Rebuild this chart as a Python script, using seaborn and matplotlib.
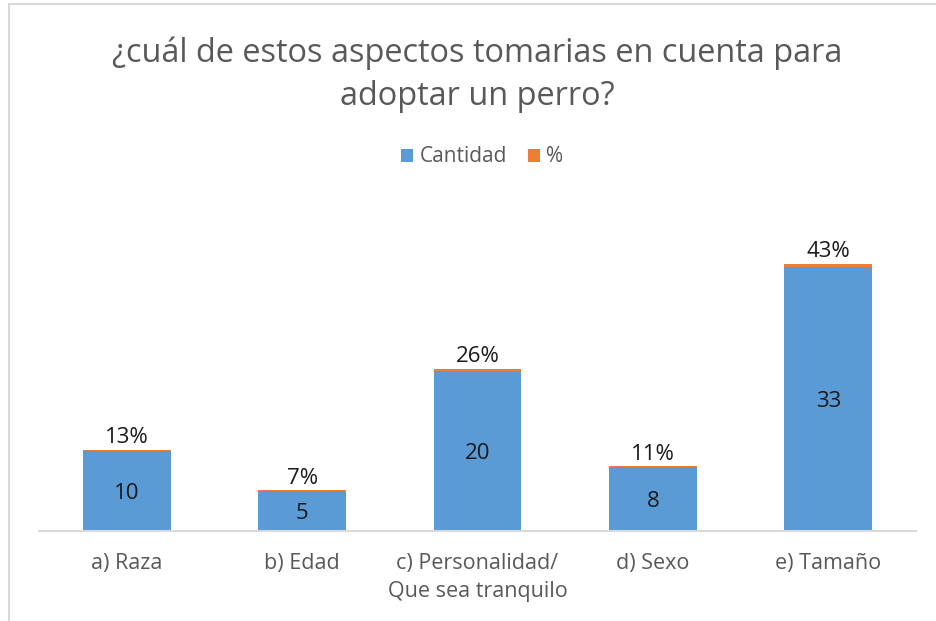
import seaborn as sns
import matplotlib.pyplot as plt
import pandas as pd
from matplotlib.patches import Rectangle

categories = ['a) Raza', 'b) Edad', 'c) Personalidad/\nQue sea tranquilo', 'd) Sexo', 'e) Tamaño']
cantidad = [10, 5, 20, 8, 33]
porcentaje = [0.13, 0.07, 0.26, 0.11, 0.43]
pct_labels = ['13%', '7%', '26%', '11%', '43%']

blue = '#5B9BD5'
orange = '#ED7D31'
gray = '#595959'

sns.set_style('white')
plt.rcParams['font.family'] = ['Open Sans', 'DejaVu Sans']

df = pd.DataFrame({'cat': categories, 'Cantidad': cantidad, '%': porcentaje})
df['total'] = df['Cantidad'] + df['%']

fig = plt.figure(figsize=(9.37, 6.21), dpi=100)
ax = fig.add_axes([39 / 937, 90 / 621, 877 / 937, 331 / 621])

# stacked: draw total first (orange), blue on top of it
sns.barplot(data=df, x='cat', y='total', color=orange, width=0.5, ax=ax,
            saturation=1, label='%', linewidth=0)
sns.barplot(data=df, x='cat', y='Cantidad', color=blue, width=0.5, ax=ax,
            saturation=1, label='Cantidad', linewidth=0)

for i, (c, t, p) in enumerate(zip(cantidad, df['total'], pct_labels)):
    ax.text(i, c / 2 - 0.3, str(c), ha='center', va='center', fontsize=16, color='#1a1a1a')
    ax.text(i, t + 0.2, p, ha='center', va='bottom', fontsize=16, color='#1a1a1a')

ax.set_ylim(0, 41.4)
ax.set_xlim(-0.5, 4.5)
ax.set_yticks([])
ax.set_xlabel('')
ax.set_ylabel('')
for s in ['top', 'right', 'left']:
    ax.spines[s].set_visible(False)
ax.spines['bottom'].set_color('#d9d9d9')
ax.spines['bottom'].set_linewidth(1.5)
ax.tick_params(axis='x', length=0, pad=16, labelsize=15.5, labelcolor=gray)
for lbl in ax.get_xticklabels():
    lbl.set_linespacing(1.4)

handles, labels = ax.get_legend_handles_labels()
order = [labels.index('Cantidad'), labels.index('%')]
fig.legend([handles[k] for k in order], [labels[k] for k in order],
           loc='center', bbox_to_anchor=(482 / 937, 1 - 157 / 621), ncol=2,
           frameon=False, fontsize=15, handlelength=0.6, handleheight=0.6,
           columnspacing=1.0, handletextpad=0.3, labelcolor=gray)
if ax.get_legend():
    ax.get_legend().remove()

fig.text(477 / 937, 1 - 75 / 621, '¿cuál de estos aspectos tomarias en cuenta para\nadoptar un perro?',
         ha='center', va='center', fontsize=23.4, color=gray, linespacing=1.38)

fig.patches.append(Rectangle((9 / 937, -0.01), 1.0, 1 - 4 / 621 + 0.01, transform=fig.transFigure,
                             fill=False, edgecolor='#d9d9d9', linewidth=1.5))

fig.savefig('out.png', dpi=100)
